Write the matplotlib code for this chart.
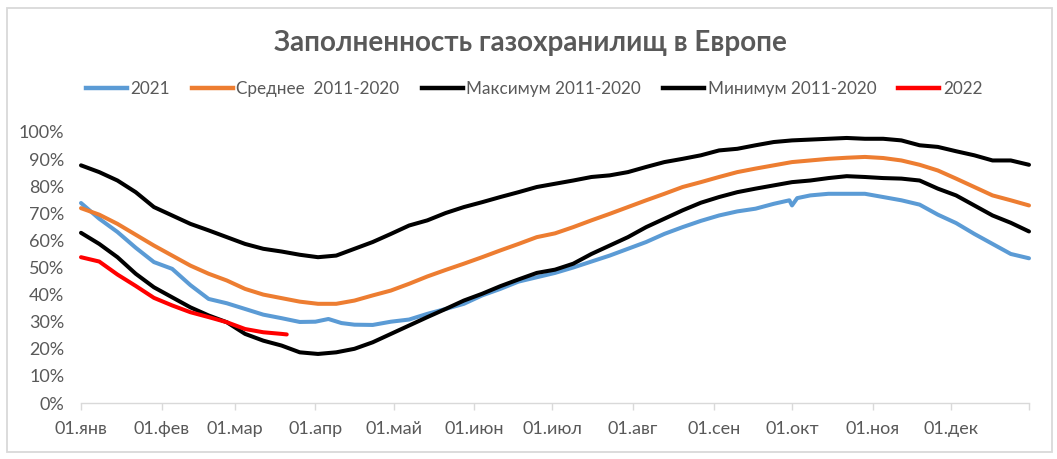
import matplotlib
matplotlib.use("Agg")
import matplotlib.pyplot as plt
from matplotlib.patches import Rectangle
from matplotlib.lines import Line2D

# ---- data (percent filled), sampled weekly: day-of-year 0..364 ----
days = list(range(0, 365, 7))

max_2011_2020 = [87.7, 85.2, 82.1, 77.8, 72.3, 69.2, 66.1, 63.7, 61.2, 58.7, 56.9, 55.9, 54.7, 53.8,
                 54.4, 56.9, 59.4, 62.4, 65.5, 67.4, 70.1, 72.3, 74.1, 76.0, 77.8, 79.7, 80.9,
                 82.1, 83.4, 84.0, 85.2, 87.1, 88.9, 90.1, 91.4, 93.2, 93.8, 95.1, 96.3, 96.9,
                 97.2, 97.5, 97.8, 97.5, 97.5, 96.9, 95.1, 94.5, 92.9, 91.4, 89.5, 89.5, 87.9]

avg_2011_2020 = [71.9, 69.5, 66.1, 62.1, 58.1, 54.4, 50.7, 47.7, 45.2, 42.1, 40.0, 38.7, 37.4, 36.6,
                 36.6, 37.8, 39.7, 41.5, 44.0, 46.7, 49.1, 51.4, 53.8, 56.3, 58.7, 61.2, 62.6,
                 64.9, 67.4, 69.8, 72.3, 74.8, 77.2, 79.7, 81.5, 83.4, 85.2, 86.5, 87.7, 88.9,
                 89.5, 90.1, 90.5, 90.8, 90.4, 89.5, 87.9, 85.8, 82.8, 79.7, 76.6, 74.8, 72.9]

min_2011_2020 = [62.8, 58.7, 53.8, 47.7, 42.7, 39.0, 35.3, 32.3, 29.8, 25.5, 23.0, 21.2, 18.7, 18.1,
                 18.7, 20.0, 22.4, 25.5, 28.6, 31.7, 34.7, 37.8, 40.3, 43.1, 45.6, 48.0, 49.2,
                 51.4, 55.0, 58.1, 61.2, 64.9, 68.0, 71.1, 73.9, 76.0, 77.8, 79.1, 80.3, 81.5,
                 82.1, 83.0, 83.7, 83.4, 83.0, 82.8, 82.1, 79.1, 76.6, 72.9, 69.2, 66.5, 63.3]

days_2021 = [0, 7, 14, 21, 28, 35, 42, 49, 56, 63, 70, 77, 84, 90, 95,
             100, 105, 112, 119, 126, 133, 140, 147, 154, 161, 168, 175, 182,
             189, 196, 203, 210, 217, 224, 231, 238, 245, 252, 259, 266, 272, 273, 275,
             280, 287, 294, 301, 308, 315, 322, 329, 336, 343, 350, 357, 364]
vals_2021 = [73.8, 68.0, 63.1, 57.3, 52.0, 49.5, 43.5, 38.4, 36.8, 34.7, 32.6, 31.3, 29.9, 30.0, 31.0,
             29.5, 28.9, 28.8, 30.0, 30.8, 32.9, 34.7, 36.6, 39.7, 42.1, 44.8, 46.4, 48.0,
             50.0, 52.2, 54.4, 56.9, 59.4, 62.4, 64.9, 67.2, 69.2, 70.7, 71.7, 73.5, 74.8, 72.9, 75.6,
             76.6, 77.2, 77.2, 77.2, 76.0, 74.8, 73.2, 69.5, 66.4, 62.4, 58.7, 55.0, 53.4]

days_2022 = [0, 7, 14, 21, 28, 35, 42, 49, 56, 63, 70, 77, 79]
vals_2022 = [53.8, 52.2, 47.4, 43.2, 38.8, 36.0, 33.5, 31.7, 29.8, 27.3, 26.1, 25.5, 25.3]

month_ticks = [0, 31, 59, 90, 120, 151, 181, 212, 243, 273, 304, 334, 364]
month_labels = ["01.янв", "01.фев", "01.мар", "01.апр", "01.май", "01.июн", "01.июл",
                "01.авг", "01.сен", "01.окт", "01.ноя", "01.дек", ""]
y_ticks = [0, 10, 20, 30, 40, 50, 60, 70, 80, 90, 100]

series_names = ["2021", "Среднее  2011-2020", "Максимум 2011-2020", "Минимум 2011-2020", "2022"]
colors = ["#5B9BD5", "#ED7D31", "#000000", "#000000", "#FF0000"]

# ---- figure ----
plt.rcParams['font.family'] = ['Lato', 'DejaVu Sans']
W, H = 1057, 459
fig = plt.figure(figsize=(W / 100, H / 100), dpi=100)
fig.patch.set_facecolor("white")
fig.add_artist(Rectangle((7 / W, 1 - 452 / H), (1052 - 7) / W, (452 - 8) / H,
                         transform=fig.transFigure, fill=False, edgecolor="#D9D9D9", linewidth=1.3))

ax = fig.add_axes([81 / W, 1 - 403 / H, (1029 - 81) / W, (403 - 132) / H])
lw = 2.9
ax.plot(days_2021, vals_2021, color=colors[0], lw=lw, solid_capstyle="round", clip_on=False)
ax.plot(days, avg_2011_2020, color=colors[1], lw=lw, solid_capstyle="round", clip_on=False)
ax.plot(days, max_2011_2020, color=colors[2], lw=lw, solid_capstyle="round", clip_on=False)
ax.plot(days, min_2011_2020, color=colors[3], lw=lw, solid_capstyle="round", clip_on=False)
ax.plot(days_2022, vals_2022, color=colors[4], lw=lw, solid_capstyle="round", clip_on=False)

ax.set_xlim(0, 364)
ax.set_ylim(0, 100)
ax.set_yticks(y_ticks)
ax.set_yticklabels([f"{v}%" for v in y_ticks])
ax.set_xticks(month_ticks)
ax.set_xticklabels(month_labels)

for s in ["top", "right", "left"]:
    ax.spines[s].set_visible(False)
ax.spines["bottom"].set_color("#D9D9D9")
ax.spines["bottom"].set_linewidth(1.0)
ax.tick_params(axis="x", colors="#D9D9D9", length=5, width=1.0, pad=8,
               labelcolor="#595959", labelsize=13)
ax.tick_params(axis="y", length=0, pad=12, labelcolor="#595959", labelsize=13)

fig.text(530 / W, 1 - 43 / H, "Заполненность газохранилищ в Европе", ha="center", va="center",
         fontsize=20, fontweight="bold", color="#595959")

fs_leg = 12.3
handles = [Line2D([], [], color=c, lw=3.2) for c in colors]
fig.legend(handles, series_names, loc="center", bbox_to_anchor=(534 / W, 1 - 89 / H),
           ncol=5, frameon=False, fontsize=fs_leg, labelcolor="#595959",
           handlelength=41 / (fs_leg * 100 / 72), handletextpad=0.2, columnspacing=1.3)

fig.savefig("out.png", dpi=100, facecolor="white")
